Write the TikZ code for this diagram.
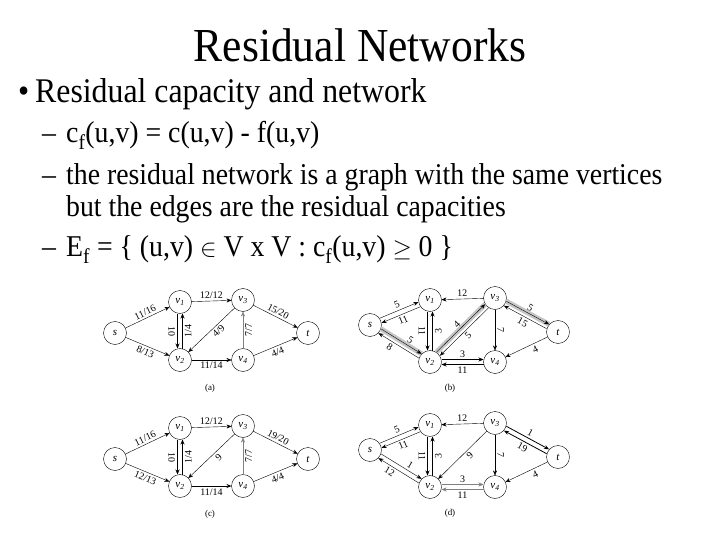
\documentclass[tikz,border=0pt]{standalone}
\usepackage{fontspec}
\setmainfont{Liberation Serif}
\newfontfamily\slidefont{Liberation Serif}[FakeStretch=0.92]
\usetikzlibrary{arrows.meta,calc}

\tikzset{
  vtx/.style={draw, circle, minimum size=23bp, inner sep=0pt, font=\fontsize{11}{11}\selectfont\itshape},
  off/.style={to path={($(\tikztostart)!#1!90:(\tikztotarget)$) -- ($(\tikztotarget)!#1!-90:(\tikztostart)$) \tikztonodes}},
  flow/.style={-{Stealth[length=5bp,width=4bp]}, shorten <=11.5bp, shorten >=11.5bp, off=0bp},
  aug/.style={line width=5bp, gray!45, shorten <=11.5bp, shorten >=11.5bp},
  lbl/.style={font=\fontsize{10}{10}\selectfont, sloped, inner sep=2.2bp, text=black},
  capt/.style={font=\fontsize{9}{9}\selectfont},
  title/.style={font=\slidefont\fontsize{47.5}{50}\selectfont},
  lvlone/.style={anchor=base west, inner sep=0pt, font=\slidefont\fontsize{34.7}{36}\selectfont},
  lvltwo/.style={anchor=base west, inner sep=0pt, font=\slidefont\fontsize{30.3}{32}\selectfont},
}

\begin{document}
\begin{tikzpicture}[x=1bp, y=-1bp]
  \path[fill=white, use as bounding box] (0,0) rectangle (720,540);

  % Titel
  \node[title, anchor=base] (title) at (360,62) {Residual Networks};

  % Stichpunkte
  \node[lvlone] (bullet) at (18,103) {•};
  \node[lvlone] (lone) at (35,103) {Residual capacity and network};
  \foreach \y in {143,185,257}
    \node[lvltwo] (dash\y) at (42,\y) {–};
  \node[lvltwo] (ltwoa) at (66,143) {c\textsubscript{f}(u,v) = c(u,v) - f(u,v)};
  \node[lvltwo] (ltwob) at (66,185) {the residual network is a graph with the same vertices};
  \node[lvltwo] (ltwoc) at (66,217) {but the edges are the residual capacities};
  \node[lvltwo] (ltwod) at (66,257) {E\textsubscript{f} = \{ (u,v) $\in$ V x V : c\textsubscript{f}(u,v) $\geq$ 0 \}};

  % Knoten links (a), (c)
  \foreach \g/\dy in {a/0, c/126} {
    \node[vtx] (\g s) at (115,333+\dy) {s};
    \node[vtx] (\g v1) at (180,302+\dy) {v\textsubscript{1}};
    \node[vtx] (\g v3) at (243,300+\dy) {v\textsubscript{3}};
    \node[vtx] (\g t) at (308,333+\dy) {t};
    \node[vtx] (\g v2) at (180,360+\dy) {v\textsubscript{2}};
    \node[vtx] (\g v4) at (243,360+\dy) {v\textsubscript{4}};
    \node[capt] (\g cap) at (210,388+\dy) {(\g)};
  }

  % Knoten rechts (b), (d)
  \foreach \g/\dy in {b/0, d/125} {
    \node[vtx] (\g s) at (370,325+\dy) {s};
    \node[vtx] (\g v1) at (430,300+\dy) {v\textsubscript{1}};
    \node[vtx] (\g v3) at (495,298+\dy) {v\textsubscript{3}};
    \node[vtx] (\g t) at (558,332+\dy) {t};
    \node[vtx] (\g v2) at (430,362+\dy) {v\textsubscript{2}};
    \node[vtx] (\g v4) at (495,362+\dy) {v\textsubscript{4}};
    \node[capt] (\g cap) at (450,388+\dy) {(\g)};
  }

  % (a) Fluss
  \draw[flow] (as) to node[lbl, above] {11/16} (av1);
  \draw[flow] (as) to node[lbl, below] {8/13} (av2);
  \draw[flow] (av1) to node[lbl, above] {12/12} (av3);
  \draw[flow] (av3) to node[lbl, above] {15/20} (at);
  \draw[flow, off=-2.5bp] (av1) to node[lbl, below] {10} (av2);
  \draw[flow, off=-2.5bp] (av2) to node[lbl, below] {1/4} (av1);
  \draw[flow] (av3) to node[lbl, below, pos=.45] {4/9} (av2);
  \draw[flow] (av2) to node[lbl, below] {11/14} (av4);
  \draw[flow, gray] (av4) to node[lbl, below] {7/7} (av3);
  \draw[flow] (av4) to node[lbl, below] {4/4} (at);

  % (b) Restnetz mit Pfad
  \draw[aug, off=2.5bp] (bs) to (bv2);
  \draw[aug, off=2.5bp] (bv2) to (bv3);
  \draw[aug, off=2.5bp] (bv3) to (bt);
  \draw[flow, off=2.5bp] (bs) to node[lbl, above] {5} (bv1);
  \draw[flow, off=2.5bp] (bv1) to node[lbl, below] {11} (bs);
  \draw[flow] (bv3) to node[lbl, above] {12} (bv1);
  \draw[flow, off=-2.5bp] (bv1) to node[lbl, below] {11} (bv2);
  \draw[flow, off=-2.5bp] (bv2) to node[lbl, below] {3} (bv1);
  \draw[flow, off=2.5bp] (bs) to node[lbl, above, pos=.6] {5} (bv2);
  \draw[flow, off=2.5bp] (bv2) to node[lbl, below, pos=.6] {8} (bs);
  \draw[flow, off=2.5bp] (bv2) to node[lbl, above] {4} (bv3);
  \draw[flow, off=2.5bp] (bv3) to node[lbl, below] {5} (bv2);
  \draw[flow, off=2.5bp] (bv3) to node[lbl, above] {5} (bt);
  \draw[flow, off=2.5bp] (bt) to node[lbl, below] {15} (bv3);
  \draw[flow, off=2.5bp] (bv2) to node[lbl, above] {3} (bv4);
  \draw[flow, off=2.5bp] (bv4) to node[lbl, below] {11} (bv2);
  \draw[flow] (bv3) to node[lbl, above] {7} (bv4);
  \draw[flow] (bt) to node[lbl, below, pos=.4] {4} (bv4);

  % (c) Fluss nach Augmentierung
  \draw[flow] (cs) to node[lbl, above] {11/16} (cv1);
  \draw[flow] (cs) to node[lbl, below] {12/13} (cv2);
  \draw[flow] (cv1) to node[lbl, above] {12/12} (cv3);
  \draw[flow] (cv3) to node[lbl, above] {19/20} (ct);
  \draw[flow, off=-2.5bp] (cv1) to node[lbl, below] {10} (cv2);
  \draw[flow, thick, off=-2.5bp] (cv2) to node[lbl, below] {1/4} (cv1);
  \draw[flow] (cv3) to node[lbl, below, pos=.45] {9} (cv2);
  \draw[flow, thick] (cv2) to node[lbl, below] {11/14} (cv4);
  \draw[flow, gray] (cv4) to node[lbl, below] {7/7} (cv3);
  \draw[flow] (cv4) to node[lbl, below] {4/4} (ct);

  % (d) Restnetz
  \draw[flow, off=2.5bp] (ds) to node[lbl, above] {5} (dv1);
  \draw[flow, off=2.5bp] (dv1) to node[lbl, below] {11} (ds);
  \draw[flow] (dv3) to node[lbl, above] {12} (dv1);
  \draw[flow, off=-2.5bp] (dv1) to node[lbl, below] {11} (dv2);
  \draw[flow, off=-2.5bp] (dv2) to node[lbl, below] {3} (dv1);
  \draw[flow, off=2.5bp] (ds) to node[lbl, above, pos=.6] {1} (dv2);
  \draw[flow, off=2.5bp] (dv2) to node[lbl, below, pos=.6] {12} (ds);
  \draw[flow] (dv3) to node[lbl, below, pos=.45] {9} (dv2);
  \draw[flow, gray, off=2.5bp] (dv2) to node[lbl, above] {3} (dv4);
  \draw[flow, gray, off=2.5bp] (dv4) to node[lbl, below] {11} (dv2);
  \draw[flow] (dv3) to node[lbl, above] {7} (dv4);
  \draw[flow, thick, off=2.5bp] (dv3) to node[lbl, above] {1} (dt);
  \draw[flow, thick, off=2.5bp] (dt) to node[lbl, below] {19} (dv3);
  \draw[flow] (dt) to node[lbl, below, pos=.4] {4} (dv4);
\end{tikzpicture}
\end{document}
